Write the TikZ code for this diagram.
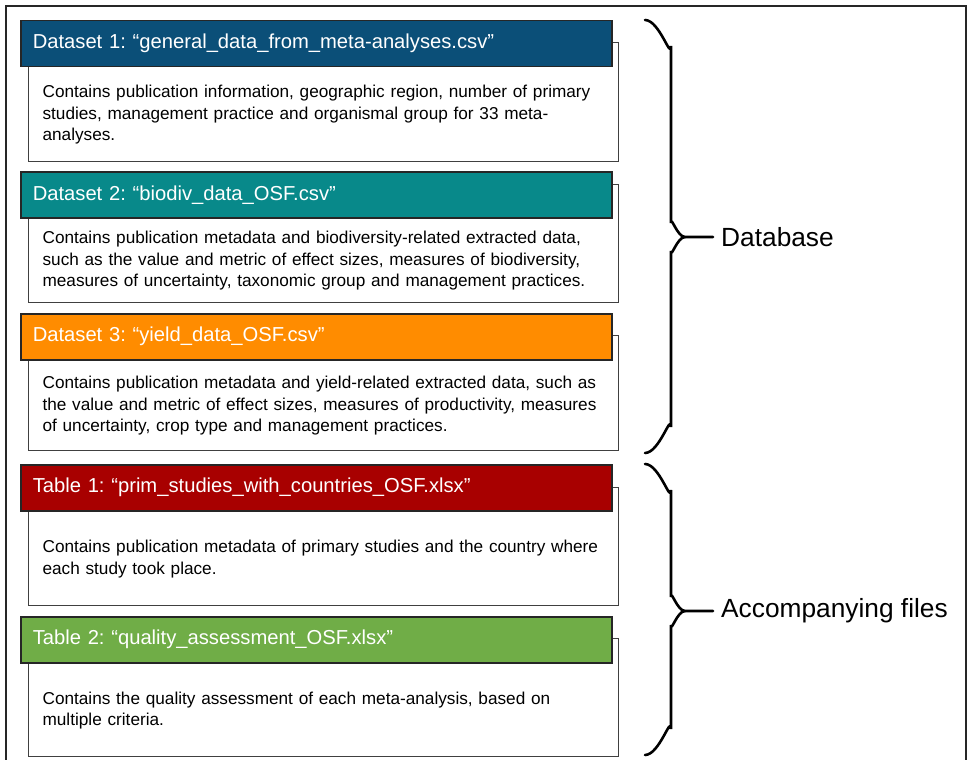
\documentclass[tikz,border=0pt]{standalone}
\usepackage{fontspec}
\setmainfont{Liberation Sans}
\usetikzlibrary{positioning,calc}
\frenchspacing

\definecolor{dsblue}{HTML}{0B4F78}
\definecolor{dsteal}{HTML}{08898A}
\definecolor{dsorange}{HTML}{FF8C00}
\definecolor{tabred}{HTML}{A80000}
\definecolor{tabgreen}{HTML}{70AD47}

\begin{document}
\begin{tikzpicture}[
  x=1pt, y=-1pt,
  head/.style={rectangle, draw=black!85, line width=1.5pt, anchor=north west, text width=567pt, inner xsep=12pt, inner ysep=0pt, minimum height=46pt, align=left, text=white, font=\fontsize{20.2}{24}\selectfont},
  body/.style={rectangle, draw=black!75, line width=1.2pt, fill=white, minimum width=590pt, anchor=north west, inner sep=0pt},
  desc/.style={text width=562pt, align=left, inner sep=0pt, font=\fontsize{17.2}{21.5}\selectfont},
  brace/.style={line width=2.6pt, line cap=round},
  group/.style={anchor=west, inner ysep=0pt, inner xsep=8pt, font=\fontsize{26.3}{30}\selectfont},
]
\useasboundingbox (0,0) rectangle (967,760);
\draw[line width=1.5pt, black!85] (6,762) -- (6,6) -- (966,6) -- (966,762);

% datasets
\node[body, minimum height=119pt] (b1) at (28,42) {};
\node[head, fill=dsblue] (h1) at (20,20) {Dataset 1: “general\_data\_from\_meta-analyses.csv”};
\node[desc] (t1) at ($(h1.south -| b1.south)!.5!(b1.south)$) {Contains publication information, geographic region, number of primary\\studies, management practice and organismal group for 33 meta-\\analyses.};

\node[body, minimum height=118pt] (b2) at (28,184) {};
\node[head, fill=dsteal] (h2) at (20,171) {Dataset 2: “biodiv\_data\_OSF.csv”};
\node[desc] (t2) at ($(h2.south -| b2.south)!.5!(b2.south)$) {Contains publication metadata and biodiversity-related extracted data,\\such as the value and metric of effect sizes, measures of biodiversity,\\measures of uncertainty, taxonomic group and management practices.};

\node[body, minimum height=115pt] (b3) at (28,335) {};
\node[head, fill=dsorange] (h3) at (20,313) {Dataset 3: “yield\_data\_OSF.csv”};
\node[desc] (t3) at ($(h3.south -| b3.south)!.5!(b3.south)$) {Contains publication metadata and yield-related extracted data, such as\\the value and metric of effect sizes, measures of productivity, measures\\of uncertainty, crop type and management practices.};

% tables
\node[body, minimum height=118pt] (b4) at (28,487) {};
\node[head, fill=tabred] (h4) at (20,464) {Table 1: “prim\_studies\_with\_countries\_OSF.xlsx”};
\node[desc] (t4) at ($(h4.south -| b4.south)!.5!(b4.south)$) {Contains publication metadata of primary studies and the country where\\each study took place.};

\node[body, minimum height=118pt] (b5) at (28,638) {};
\node[head, fill=tabgreen] (h5) at (20,616) {Table 2: “quality\_assessment\_OSF.xlsx”};
\node[desc] (t5) at ($(h5.south -| b5.south)!.5!(b5.south)$) {Contains the quality assessment of each meta-analysis, based on\\multiple criteria.};

% braces
\node[group] (db) at (713,237) {Database};
\node[group] (acc) at (713,611) {Accompanying files};

\draw[brace] (645,20) to[out=0,in=-90] (671,46) -- (671,223) to[out=90,in=180] (685,237) -- (db.west);
\draw[brace] (685,237) to[out=180,in=-90] (671,251) -- (671,427) to[out=90,in=0] (645,453);
\draw[brace] (645,464) to[out=0,in=-90] (671,490) -- (671,597) to[out=90,in=180] (685,611) -- (acc.west);
\draw[brace] (685,611) to[out=180,in=-90] (671,625) -- (671,729) to[out=90,in=0] (645,755);
\end{tikzpicture}
\end{document}
